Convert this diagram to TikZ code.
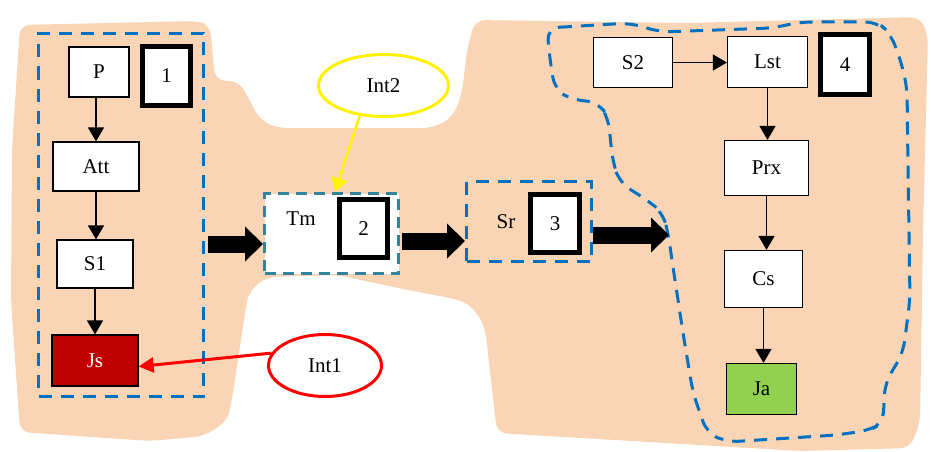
\documentclass[tikz,border=0pt]{standalone}
\usepackage{fontspec}
\setmainfont{Liberation Serif}
\usetikzlibrary{arrows.meta,shapes.geometric,calc}
\definecolor{peach}{HTML}{F9D5B5}
\definecolor{grpblue}{HTML}{0070C0}
\definecolor{grpteal}{HTML}{31849B}
\definecolor{jsred}{HTML}{C00000}
\definecolor{jagreen}{HTML}{92D050}
\newcommand\dgmfont{\fontsize{21}{25}\selectfont}
\begin{document}
\begin{tikzpicture}[x=1pt,y=-1pt,
  proc/.style={draw=black, line width=1.2pt, fill=white, inner sep=0pt, font=\dgmfont},
  numbox/.style={draw=black, line width=5pt, fill=white, minimum width=48pt, minimum height=58pt, inner sep=0pt, font=\dgmfont},
  flow/.style={-{Triangle[length=14pt,width=16pt]}, line width=1.3pt},
  bigarrow/.style={line width=17pt, -{Triangle[length=18pt,width=34pt]}},
  grp/.style={draw=grpblue, line width=3pt, dash pattern=on 13pt off 9pt},
  note/.style={ellipse, line width=3pt, fill=white, inner sep=0pt, font=\dgmfont},
  lbl/.style={inner sep=0pt, font=\dgmfont}]
\useasboundingbox (0,0) rectangle (931,452);

% peach background region
\fill[peach, rounded corners=10pt] (20,25) -- (197,21) -- (210,25) -- (215,80) -- (240,82)
  -- (260,120) -- (277,128) -- (433,128) -- (453,117) -- (462,93) -- (467,50) -- (475,20)
  -- (687,23) -- (920,17) -- (928,35) -- (923,233) -- (920,423) -- (910,448) -- (800,451)
  -- (497,433) -- (485,327) -- (473,307) -- (460,300) -- (403,289) -- (337,275) -- (267,277)
  -- (250,290) -- (247,300) -- (233,393) -- (228,420) -- (205,436) -- (150,441) -- (20,432)
  -- (11,300) -- (12,150) -- cycle;

% dashed outline of the fourth group
\draw[grp, rounded corners=12pt] (547,28) -- (630,23) -- (660,32) -- (773,28) -- (800,22)
  -- (877,22) -- (890,33) -- (900,58) -- (907,87) -- (908,167) -- (910,300) -- (903,353)
  -- (885,383) -- (883,423) -- (870,430) -- (837,435) -- (727,442) -- (707,433) -- (693,393)
  -- (683,333) -- (673,267) -- (668,233) -- (663,213) -- (647,200) -- (620,183) -- (613,163)
  -- (608,117) -- (598,102) -- (573,100) -- (555,90) -- (550,60) -- cycle;

% first group
\node[grp, minimum width=165pt, minimum height=363pt] (lbox) at (121,215) {};
\node[proc, minimum width=60pt, minimum height=50pt] (p) at (99,72) {P};
\node[numbox] (n1) at (166.5,76) {1};
\node[proc, minimum width=86pt, minimum height=49pt] (att) at (96,166.5) {Att};
\node[proc, minimum width=76pt, minimum height=48pt] (s1) at (95,264) {S1};
\node[proc, fill=jsred, text=white, minimum width=86pt, minimum height=51pt] (js) at (95,360.5) {Js};
\draw[flow] (att.north |- p.south) -- (att.north);
\draw[flow] (att.south) -- (att.south |- s1.north);
\draw[flow] (s1.south) -- (s1.south |- js.north);

% second group
\node[draw=grpteal, line width=3pt, dash pattern=on 11pt off 7pt, fill=white,
  minimum width=134pt, minimum height=80pt] (tm) at (331.5,233.5) {};
\node[lbl] (tmlbl) at (301,219) {Tm};
\node[numbox] (n2) at (363.5,228.5) {2};

% third group
\node[grp, minimum width=125pt, minimum height=80pt] (sr) at (529,221.5) {};
\node[lbl] (srlbl) at (506,222) {Sr};
\node[numbox, minimum width=49pt] (n3) at (555,223.5) {3};

% fourth group
\node[proc, minimum width=79pt, minimum height=50pt] (s2) at (633,62.5) {S2};
\node[proc, minimum width=80pt, minimum height=51pt] (lst) at (767.5,62) {Lst};
\node[numbox, minimum width=49pt, minimum height=60pt] (n4) at (845,64.5) {4};
\node[proc, minimum width=84pt, minimum height=55pt] (prx) at (766.5,168) {Prx};
\node[proc, minimum width=78pt, minimum height=57pt] (cs) at (763.5,279) {Cs};
\node[proc, fill=jagreen, minimum width=70pt, minimum height=51pt] (ja) at (761.5,389) {Ja};
\draw[flow] (s2.east) -- (lst.west |- s2.east);
\draw[flow] (lst.south) -- (lst.south |- prx.north);
\draw[flow] (prx.south) -- (prx.south |- cs.north);
\draw[flow] (cs.south) -- (cs.south |- ja.north);

% block arrows between groups
\coordinate (g4in) at (669,235);
\draw[bigarrow] ($(lbox.east |- tm.west)+(3,10.5)$) -- ($(tm.west)+(0,10.5)$);
\draw[bigarrow] ($(tm.east)+(2,7.5)$) -- ($(sr.west |- tm.east)+(0,7.5)$);
\draw[bigarrow] (g4in -| sr.east) -- (g4in);

% annotations
\node[note, draw=red, minimum width=113pt, minimum height=62pt] (int1) at (325,365.5) {Int1};
\node[note, draw=yellow, minimum width=130pt, minimum height=62pt] (int2) at (383.5,85.5) {Int2};
\draw[red, line width=3pt, -{Triangle[length=15pt,width=15pt]}] (int1.167) -- ([yshift=-6pt]js.east);
\draw[yellow, line width=2.5pt, -{Triangle[length=14pt,width=16pt]}] (int2.232) -- ([xshift=3.5pt]tm.north);
\end{tikzpicture}
\end{document}
